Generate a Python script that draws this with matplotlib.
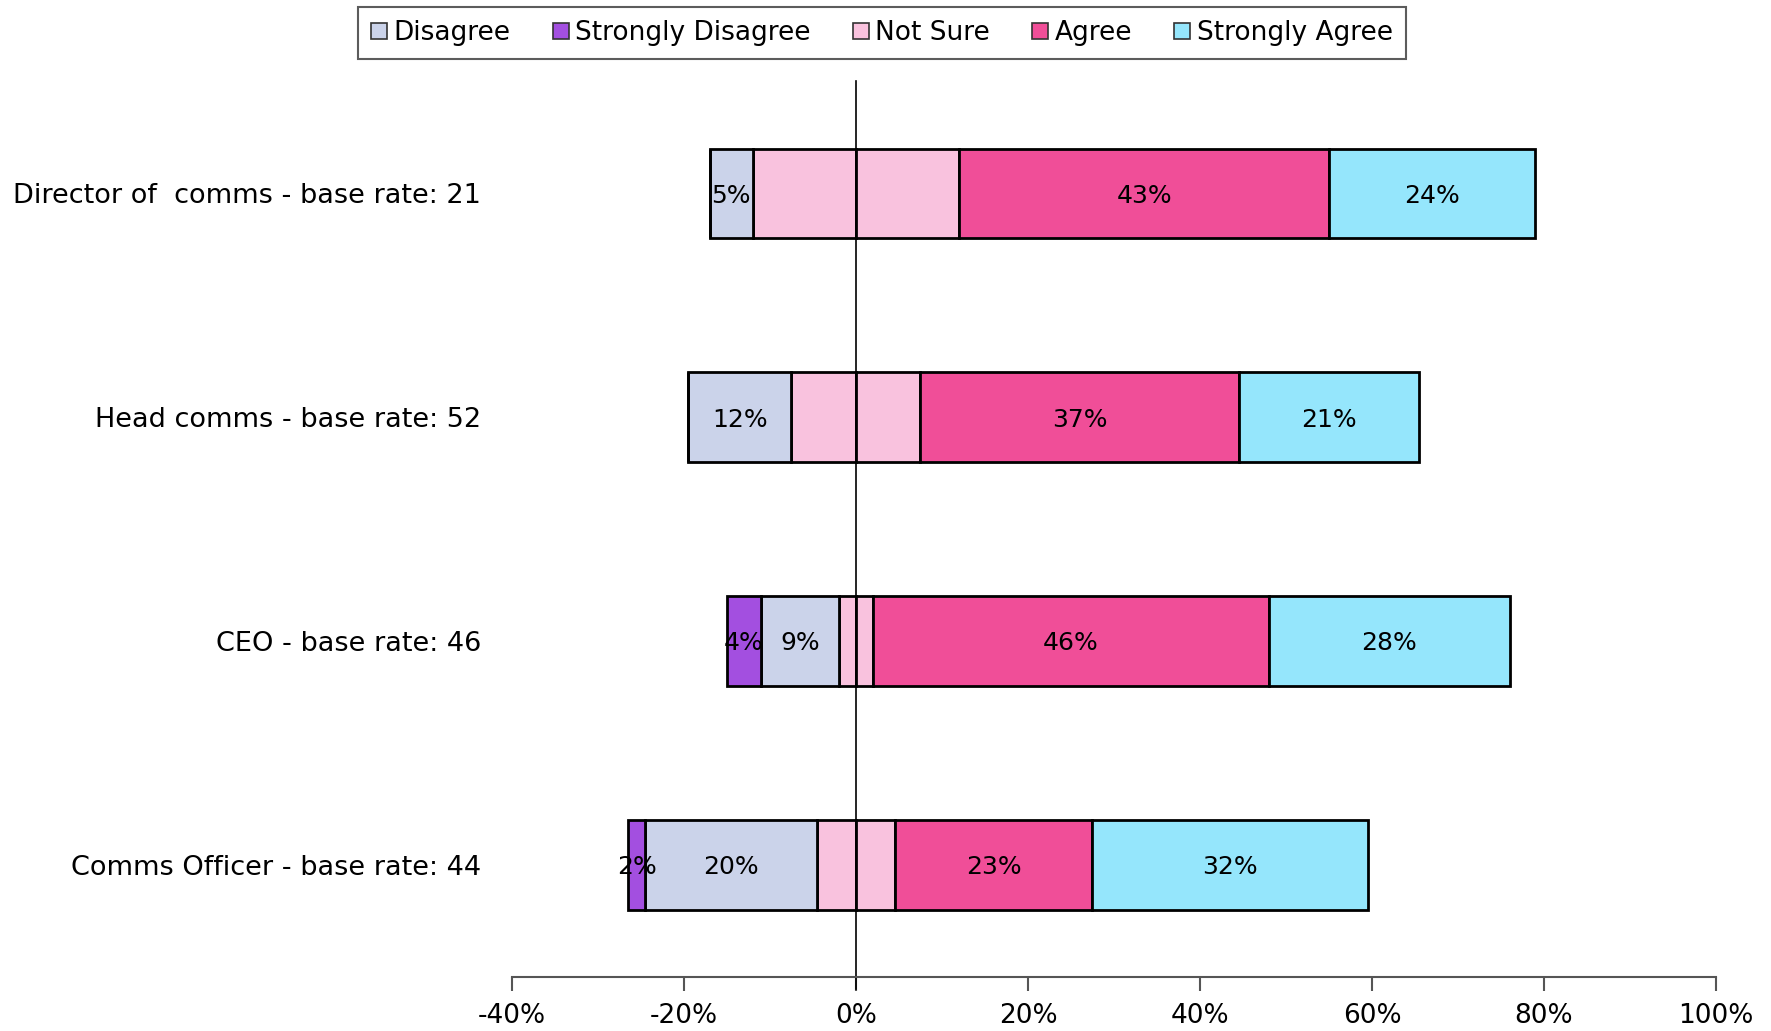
import numpy as np
import matplotlib.pyplot as plt
from matplotlib.patches import Patch
from matplotlib.ticker import FuncFormatter

plt.rcParams['font.family'] = ['DejaVu Sans']

# data (percent)
roles = ['Director of  comms - base rate: 21', 'Head comms - base rate: 52',
         'CEO - base rate: 46', 'Comms Officer - base rate: 44']
disagree = [5, 12, 9, 20]
strongly_disagree = [0, 0, 4, 2]
not_sure = [24, 15, 4, 9]
agree = [43, 37, 46, 23]
strongly_agree = [24, 21, 28, 32]

c_dis = '#CBD3EA'
c_sdis = '#A34FE0'
c_ns = '#F9C2DE'
c_agr = '#F04E98'
c_sagr = '#95E6FC'

fig = plt.figure(figsize=(17.71, 10.31), dpi=100)
ax = fig.add_axes([0.289, 0.0524, 0.680, 0.8686])

y = np.arange(len(roles))[::-1]
h = 0.40
kw = dict(height=h, edgecolor='black', linewidth=2)

ns_half = np.array(not_sure) / 2.0
dis = np.array(disagree)
sdis = np.array(strongly_disagree)
agr = np.array(agree)
sagr = np.array(strongly_agree)

# left side
ax.barh(y, -ns_half, left=0, color=c_ns, **kw)
ax.barh(y, -dis, left=-ns_half, color=c_dis, **kw)
ax.barh(y, -sdis, left=-ns_half - dis, color=c_sdis, **kw)
# right side
ax.barh(y, ns_half, left=0, color=c_ns, **kw)
ax.barh(y, agr, left=ns_half, color=c_agr, **kw)
ax.barh(y, sagr, left=ns_half + agr, color=c_sagr, **kw)

# value labels
for i in range(len(roles)):
    segs = [(-ns_half[i] - dis[i] / 2, dis[i]),
            (-ns_half[i] - dis[i] - sdis[i] / 2, sdis[i]),
            (ns_half[i] + agr[i] / 2, agr[i]),
            (ns_half[i] + agr[i] + sagr[i] / 2, sagr[i])]
    for xc, v in segs:
        if v > 0:
            ax.text(xc, y[i] - 0.01, '%d%%' % v, ha='center', va='center', fontsize=18)

ax.axvline(0, color='black', linewidth=1.2, ymin=-0.013, clip_on=False)

ax.set_xlim(-40, 100)
ax.set_ylim(-0.5, 3.5)
ax.set_xticks(np.arange(-40, 101, 20))
ax.xaxis.set_major_formatter(FuncFormatter(lambda v, p: '%d%%' % v))
ax.tick_params(axis='x', labelsize=19, direction='out', length=10, width=1.5,
               color='#555555', pad=9)
ax.set_yticks(y)
ax.set_yticklabels(roles, fontsize=19.5)
ax.tick_params(axis='y', length=0, pad=22)

for s in ['top', 'right', 'left']:
    ax.spines[s].set_visible(False)
ax.spines['bottom'].set_color('#555555')
ax.spines['bottom'].set_linewidth(1.5)

handles = [Patch(facecolor=c, edgecolor='#333333', linewidth=1.2, label=l)
           for c, l in [(c_dis, 'Disagree'), (c_sdis, 'Strongly Disagree'),
                        (c_ns, 'Not Sure'), (c_agr, 'Agree'), (c_sagr, 'Strongly Agree')]]
leg = fig.legend(handles=handles, loc='upper center', bbox_to_anchor=(0.498, 0.997),
                 ncol=5, frameon=True, fancybox=False, borderaxespad=0.15,
                 fontsize=19, handlelength=0.6, handleheight=0.6, handletextpad=0.25,
                 columnspacing=1.6, borderpad=0.5)
leg.get_frame().set_edgecolor('#333333')
leg.get_frame().set_linewidth(1.5)

fig.savefig('out.png', dpi=100)
